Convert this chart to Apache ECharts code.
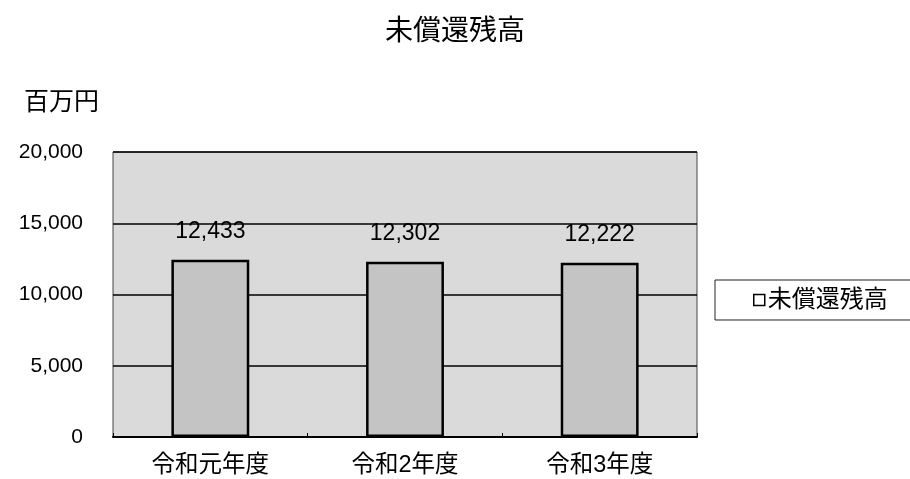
<!DOCTYPE html>
<html>
<head>
<meta charset="utf-8">
<script src="https://cdn.jsdelivr.net/npm/echarts@6/dist/echarts.min.js"></script>
<style>
  html, body { margin: 0; padding: 0; background: #ffffff; }
  #chart { width: 910px; height: 479px; }
</style>
</head>
<body>
<div id="chart"></div>
<script>
// Outstanding balance (million yen) by fiscal year
const categories = ['令和元年度', '令和2年度', '令和3年度'];
const seriesName = '未償還残高';
const balances = [12433, 12302, 12222];
const yTicks = [0, 5000, 10000, 15000, 20000];
const unitLabel = '百万円';

const FONT = '"Liberation Sans", Arial, "Noto Sans CJK JP", sans-serif';

const chart = echarts.init(document.getElementById('chart'), null, { renderer: 'canvas' });

chart.setOption({
  backgroundColor: '#ffffff',
  animation: false,
  title: [
    {
      text: seriesName,
      left: 'center',
      top: 13,
      textStyle: { fontFamily: FONT, fontSize: 28, fontWeight: 'normal', color: '#000' }
    },
    {
      text: unitLabel,
      left: 19,
      top: 86,
      textStyle: { fontFamily: FONT, fontSize: 25, fontWeight: 'normal', color: '#000' }
    }
  ],
  legend: {
    data: [seriesName],
    left: 715,
    top: 280,
    orient: 'vertical',
    icon: 'rect',
    itemWidth: 11,
    itemHeight: 11,
    itemGap: 0,
    padding: [8, 30, 8, 38],
    borderColor: '#222',
    borderWidth: 1,
    backgroundColor: '#ffffff',
    itemStyle: { color: '#ffffff', borderColor: '#000', borderWidth: 1.5 },
    textStyle: { fontFamily: FONT, fontSize: 24, color: '#000', padding: [0, 0, 0, -2] }
  },
  grid: {
    left: 113,
    right: 213,
    top: 152,
    bottom: 42,
    show: true,
    backgroundColor: '#dadada',
    borderColor: '#444',
    borderWidth: 1
  },
  xAxis: {
    type: 'category',
    data: categories,
    axisLine: { show: true, lineStyle: { color: '#000', width: 2 } },
    axisTick: { show: true, inside: true, length: 4, lineStyle: { color: '#000', width: 1 } },
    axisLabel: { fontFamily: FONT, fontSize: 23.5, color: '#000', margin: 17 }
  },
  yAxis: {
    type: 'value',
    min: yTicks[0],
    max: yTicks[yTicks.length - 1],
    interval: yTicks[1] - yTicks[0],
    axisLine: { show: false },
    axisTick: { show: false },
    axisLabel: {
      fontFamily: FONT,
      fontSize: 21,
      color: '#000',
      margin: 30,
      formatter: v => v.toLocaleString('en-US')
    },
    splitLine: { show: true, lineStyle: { color: '#000', width: 1.5 } }
  },
  series: [
    {
      name: seriesName,
      type: 'bar',
      data: balances,
      barWidth: '40%',
      itemStyle: { color: '#c4c4c4', borderColor: '#000', borderWidth: 2.5 },
      label: {
        show: true,
        position: 'top',
        distance: 17,
        fontFamily: FONT,
        fontSize: 23,
        color: '#000',
        formatter: p => p.value.toLocaleString('en-US')
      }
    }
  ]
});
</script>
</body>
</html>
